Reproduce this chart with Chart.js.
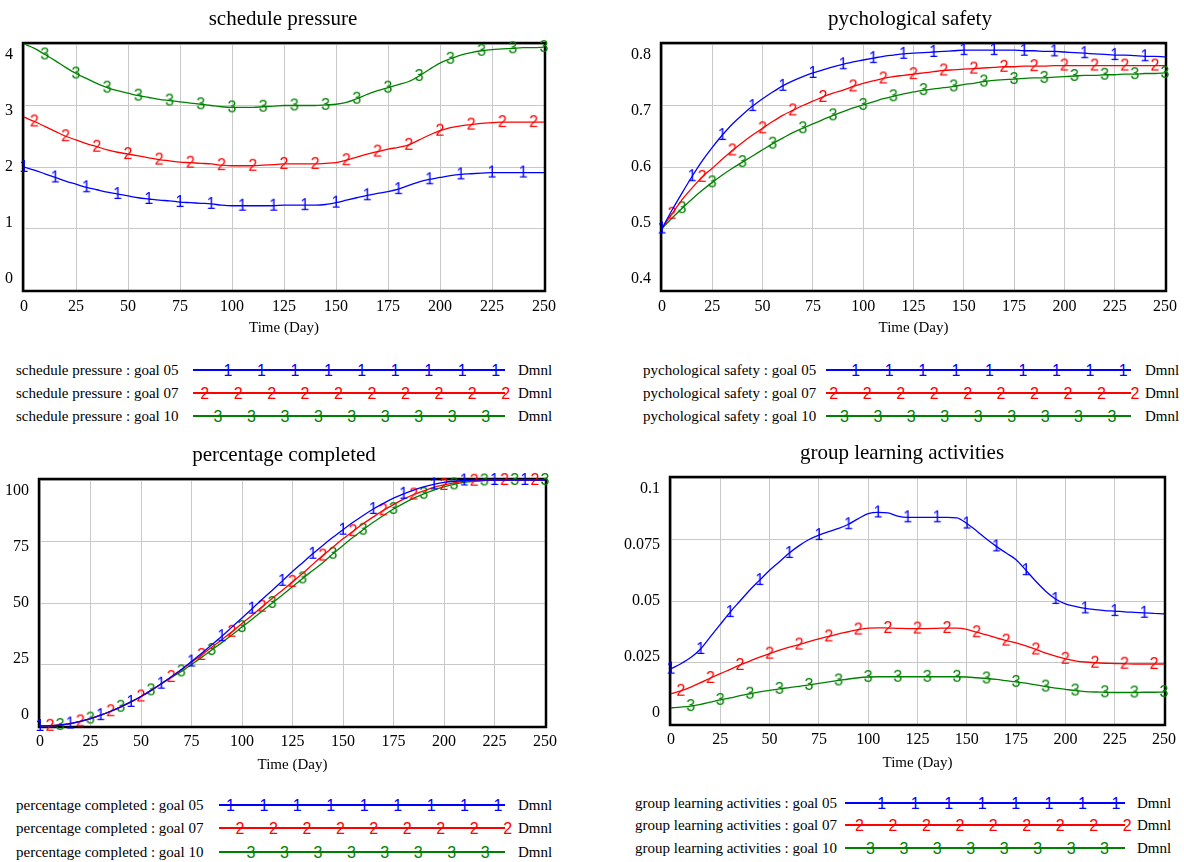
<!DOCTYPE html>
<html>
<head>
<meta charset="utf-8">
<script src="https://cdn.jsdelivr.net/npm/chart.js@4.4.0/dist/chart.umd.min.js"></script>
<style>
  body { margin: 0; background: #fff; }
  #page { position: relative; width: 1184px; height: 862px; overflow: hidden; font-family: "Liberation Serif", "Times New Roman", serif; }
  canvas.panel { position: absolute; }
  .lg-text, .lg-unit { position: absolute; font-size: 15px; line-height: 18px; height: 18px; white-space: nowrap; color: #000; }
  .lg-line { position: absolute; height: 0; border-top: 2px solid; }
  .lg-mark { position: absolute; font-family: "Liberation Sans", Arial, sans-serif; font-size: 16px; line-height: 16px; transform: translate(-50%, -50%); }
</style>
</head>
<body>
<div id="page"></div>
<script>
// time axis (days), one value every 5 days
var TIME = [0, 5, 10, 15, 20, 25, 30, 35, 40, 45, 50, 55, 60, 65, 70, 75, 80, 85, 90, 95,
  100, 105, 110, 115, 120, 125, 130, 135, 140, 145, 150, 155, 160, 165, 170, 175, 180, 185, 190, 195,
  200, 205, 210, 215, 220, 225, 230, 235, 240, 245, 250];

var RUNS = ['goal 05', 'goal 07', 'goal 10'];

// schedule pressure
var sp05 = [2.00, 1.95, 1.89, 1.83, 1.77, 1.72, 1.67, 1.63, 1.59, 1.56, 1.53, 1.50, 1.48, 1.46, 1.45, 1.43, 1.42, 1.41, 1.40, 1.38,
  1.37, 1.37, 1.37, 1.37, 1.37, 1.38, 1.38, 1.38, 1.38, 1.39, 1.42, 1.46, 1.50, 1.54, 1.57, 1.60, 1.64, 1.70, 1.76, 1.80,
  1.83, 1.86, 1.88, 1.89, 1.90, 1.91, 1.91, 1.91, 1.91, 1.91, 1.91];
var sp07 = [2.81, 2.74, 2.66, 2.58, 2.50, 2.44, 2.38, 2.33, 2.28, 2.24, 2.21, 2.18, 2.15, 2.12, 2.10, 2.08, 2.07, 2.06, 2.05, 2.03,
  2.02, 2.02, 2.02, 2.03, 2.04, 2.05, 2.05, 2.05, 2.05, 2.06, 2.07, 2.11, 2.16, 2.21, 2.25, 2.29, 2.32, 2.36, 2.44, 2.52,
  2.59, 2.64, 2.67, 2.69, 2.71, 2.72, 2.73, 2.73, 2.73, 2.73, 2.73];
var sp10 = [4.00, 3.93, 3.83, 3.73, 3.62, 3.52, 3.44, 3.36, 3.29, 3.24, 3.20, 3.16, 3.13, 3.10, 3.08, 3.06, 3.04, 3.02, 3.00, 2.98,
  2.97, 2.97, 2.97, 2.98, 2.99, 3.00, 3.00, 3.00, 3.00, 3.01, 3.02, 3.05, 3.11, 3.18, 3.24, 3.29, 3.34, 3.39, 3.48, 3.59,
  3.69, 3.76, 3.82, 3.86, 3.89, 3.91, 3.92, 3.93, 3.94, 3.94, 3.95];

// pychological safety
var ps05 = [0.500, 0.530, 0.558, 0.585, 0.610, 0.632, 0.652, 0.670, 0.685, 0.699, 0.711, 0.722, 0.732, 0.740, 0.747, 0.753, 0.758, 0.763, 0.767, 0.771,
  0.774, 0.777, 0.780, 0.782, 0.784, 0.785, 0.786, 0.787, 0.788, 0.789, 0.790, 0.790, 0.790, 0.790, 0.790, 0.790, 0.789, 0.789, 0.788, 0.788,
  0.787, 0.786, 0.785, 0.784, 0.783, 0.782, 0.782, 0.781, 0.780, 0.780, 0.779];
var ps07 = [0.500, 0.524, 0.547, 0.566, 0.584, 0.598, 0.613, 0.627, 0.640, 0.652, 0.663, 0.674, 0.684, 0.692, 0.700, 0.707, 0.714, 0.720, 0.725, 0.731,
  0.736, 0.740, 0.744, 0.747, 0.749, 0.751, 0.753, 0.755, 0.757, 0.758, 0.759, 0.760, 0.761, 0.762, 0.763, 0.763, 0.764, 0.764, 0.764, 0.765,
  0.765, 0.765, 0.765, 0.765, 0.765, 0.765, 0.765, 0.765, 0.765, 0.765, 0.765];
var ps10 = [0.500, 0.517, 0.533, 0.548, 0.562, 0.575, 0.587, 0.598, 0.608, 0.618, 0.628, 0.638, 0.647, 0.656, 0.663, 0.670, 0.677, 0.684, 0.690, 0.696,
  0.701, 0.706, 0.711, 0.715, 0.719, 0.722, 0.725, 0.727, 0.729, 0.731, 0.734, 0.736, 0.739, 0.741, 0.742, 0.743, 0.744, 0.745, 0.745, 0.746,
  0.747, 0.748, 0.749, 0.749, 0.750, 0.750, 0.751, 0.751, 0.752, 0.752, 0.753];

// percentage completed
var pc05 = [0, 0.1, 0.4, 1.0, 1.9, 3.0, 4.4, 6.0, 7.8, 9.8, 12.0, 14.5, 17.2, 20.0, 23.0, 26.2, 29.6, 33.0, 36.5, 40.2,
  43.9, 47.7, 51.5, 55.2, 59.0, 62.8, 66.4, 70.0, 73.4, 76.7, 79.8, 82.8, 85.6, 88.2, 90.5, 92.6, 94.4, 95.9, 97.2, 98.2,
  99.0, 99.5, 99.8, 100, 100, 100, 100, 100, 100, 100, 100];
var pc07 = [0, 0.1, 0.4, 1.0, 1.9, 3.0, 4.4, 6.0, 7.8, 9.8, 12.0, 14.5, 17.1, 19.9, 22.9, 25.9, 28.9, 32.0, 35.1, 38.3,
  41.7, 45.0, 48.5, 51.9, 55.2, 58.6, 62.0, 65.7, 69.3, 72.7, 76.1, 79.2, 82.2, 85.0, 87.7, 90.0, 92.2, 94.1, 95.6, 97.0,
  98.0, 98.8, 99.4, 99.7, 99.9, 100, 100, 100, 100, 100, 100];
var pc10 = [0, 0.1, 0.4, 1.0, 1.9, 3.0, 4.4, 6.0, 7.8, 9.8, 12.0, 14.5, 17.2, 19.7, 22.2, 25.0, 27.9, 30.9, 33.9, 37.0,
  40.2, 43.4, 46.7, 50.0, 53.3, 56.6, 60.0, 63.2, 66.4, 70.0, 73.4, 76.7, 79.8, 82.8, 85.6, 88.2, 90.5, 92.6, 94.4, 95.9,
  97.2, 98.2, 99.0, 99.5, 99.8, 100, 100, 100, 100, 100, 100];

// group learning activities
var gl05 = [0.0225, 0.0245, 0.0270, 0.0305, 0.0355, 0.0405, 0.0455, 0.0500, 0.0545, 0.0585, 0.0625, 0.0660, 0.0695, 0.0725, 0.0750, 0.0768, 0.0782, 0.0795, 0.0812, 0.0835,
  0.0855, 0.0860, 0.0858, 0.0845, 0.0840, 0.0840, 0.0840, 0.0840, 0.0840, 0.0838, 0.0815, 0.0785, 0.0752, 0.0722, 0.0695, 0.0668, 0.0625, 0.0580, 0.0540, 0.0508,
  0.0488, 0.0478, 0.0470, 0.0465, 0.0461, 0.0459, 0.0456, 0.0454, 0.0452, 0.0450, 0.0448];
var gl07 = [0.0123, 0.0135, 0.0150, 0.0168, 0.0187, 0.0205, 0.0222, 0.0240, 0.0256, 0.0272, 0.0286, 0.0300, 0.0312, 0.0323, 0.0335, 0.0346, 0.0356, 0.0366, 0.0375, 0.0384,
  0.0390, 0.0391, 0.0390, 0.0389, 0.0388, 0.0388, 0.0388, 0.0389, 0.0390, 0.0390, 0.0385, 0.0373, 0.0362, 0.0350, 0.0339, 0.0330, 0.0318, 0.0303, 0.0288, 0.0276,
  0.0265, 0.0257, 0.0252, 0.0249, 0.0247, 0.0246, 0.0245, 0.0244, 0.0244, 0.0244, 0.0244];
var gl10 = [0.0066, 0.0069, 0.0073, 0.0080, 0.0089, 0.0098, 0.0106, 0.0115, 0.0123, 0.0131, 0.0137, 0.0143, 0.0148, 0.0153, 0.0159, 0.0165, 0.0171, 0.0177, 0.0183, 0.0188,
  0.0191, 0.0192, 0.0192, 0.0192, 0.0192, 0.0192, 0.0192, 0.0192, 0.0192, 0.0192, 0.0191, 0.0188, 0.0185, 0.0181, 0.0176, 0.0171, 0.0166, 0.0159, 0.0152, 0.0146,
  0.0141, 0.0136, 0.0132, 0.0130, 0.0129, 0.0128, 0.0128, 0.0128, 0.0129, 0.0129, 0.0130];

var COLORS = ['#0000ff', '#ff0000', '#008000'];
var DIGITS = ['1', '2', '3'];
var SERIF = '"Liberation Serif", "Times New Roman", serif';

var page = document.getElementById('page');

// little canvas with the run number, used as point style
function digitImage(d, color) {
  var c = document.createElement('canvas');
  c.width = 12;
  c.height = 16;
  var g = c.getContext('2d');
  g.font = '16px "Liberation Sans", Arial, sans-serif';
  g.fillStyle = color;
  g.textAlign = 'center';
  g.textBaseline = 'middle';
  g.fillText(d, 6, 8.5);
  return c;
}
var MARKS = DIGITS.map(function (d, i) { return digitImage(d, COLORS[i]); });

// frame, title and vensim style y labels
var vensimLook = {
  id: 'vensimLook',
  beforeDatasetsDraw: function (chart) {
    var a = chart.chartArea, ctx = chart.ctx;
    ctx.save();
    ctx.strokeStyle = '#000';
    ctx.lineWidth = 2.5;
    ctx.strokeRect(a.left - 1, a.top - 1, a.right - a.left + 2, a.bottom - a.top + 2);
    ctx.restore();
  },
  afterDraw: function (chart, args, opts) {
    var a = chart.chartArea, ctx = chart.ctx, ys = chart.scales.y;
    ctx.save();
    ctx.fillStyle = '#000';
    ctx.textBaseline = 'middle';
    ctx.textAlign = 'center';
    ctx.font = '21px ' + SERIF;
    ctx.fillText(opts.title, opts.titleX, opts.titleY);

    // labels slide inward towards the ends of the axis, like Vensim does
    ctx.font = '16px ' + SERIF;
    ctx.textAlign = 'right';
    ys.ticks.forEach(function (t) {
      var py = ys.getPixelForValue(t.value);
      var f = (t.value - ys.min) / (ys.max - ys.min);
      var lbl = String(+t.value.toFixed(4));
      ctx.fillText(lbl, a.left - 11, py + (f - 0.5) * 22);
    });
    ctx.restore();
  }
};

function makePanel(p) {
  var canvas = document.createElement('canvas');
  canvas.className = 'panel';
  canvas.width = p.w;
  canvas.height = p.h;
  canvas.style.left = p.x + 'px';
  canvas.style.top = p.y + 'px';
  canvas.style.width = p.w + 'px';
  canvas.style.height = p.h + 'px';
  page.appendChild(canvas);

  var datasets = p.series.map(function (vals, i) {
    return {
      label: p.name + ' : ' + RUNS[i],
      data: TIME.map(function (t, k) { return { x: t, y: vals[k] }; }),
      borderColor: COLORS[i],
      borderWidth: 1.3,
      fill: false,
      cubicInterpolationMode: 'monotone',
      pointStyle: MARKS[i],
      pointRadius: function (c) { return c.dataIndex % 3 === i ? 5 : 0; },
      pointHoverRadius: 0,
      clip: false
    };
  });

  new Chart(canvas, {
    type: 'line',
    data: { datasets: datasets },
    options: {
      responsive: false,
      animation: false,
      events: [],
      layout: { padding: { left: 0, top: p.top, right: p.w - p.right, bottom: 0 } },
      plugins: {
        legend: { display: false },
        tooltip: { enabled: false },
        vensimLook: { title: p.name, titleX: p.titleX, titleY: p.titleY }
      },
      scales: {
        x: {
          type: 'linear',
          min: 0,
          max: 250,
          ticks: { stepSize: 25, autoSkip: false, maxRotation: 0, padding: p.tickPad, color: '#000', font: { family: SERIF, size: 16 } },
          grid: { color: '#c8c8c8', drawTicks: false },
          border: { display: false },
          title: { display: true, text: 'Time (Day)', color: '#000', font: { family: SERIF, size: 15 }, padding: { top: 0, bottom: p.titlePad } },
          afterFit: function (s) { s.height = p.h - p.bottom; }
        },
        y: {
          min: p.ymin,
          max: p.ymax,
          ticks: { stepSize: p.ystep, display: false },
          grid: { color: '#c8c8c8', drawTicks: false },
          border: { display: false },
          afterFit: function (s) { s.width = p.left; }
        }
      }
    },
    plugins: [vensimLook]
  });
}

function addText(cls, text, x, y) {
  var el = document.createElement('div');
  el.className = cls;
  el.textContent = text;
  el.style.left = x + 'px';
  el.style.top = (y - 9) + 'px';
  page.appendChild(el);
}

function makeLegend(p) {
  var lg = p.legend;
  RUNS.forEach(function (run, i) {
    var y = lg.rows[i];
    addText('lg-text', p.name + ' : ' + run, lg.textX, y);
    var line = document.createElement('div');
    line.className = 'lg-line';
    line.style.left = lg.x0 + 'px';
    line.style.width = (lg.x1 - lg.x0) + 'px';
    line.style.top = (y - 1) + 'px';
    line.style.borderColor = COLORS[i];
    page.appendChild(line);
    for (var off = lg.first[i]; off <= lg.x1 - lg.x0 + 4; off += 33.45) {
      var m = document.createElement('div');
      m.className = 'lg-mark';
      m.textContent = DIGITS[i];
      m.style.color = COLORS[i];
      m.style.left = (lg.x0 + off) + 'px';
      m.style.top = (y + 0.5) + 'px';
      page.appendChild(m);
    }
    addText('lg-unit', 'Dmnl', lg.unitX, y);
  });
}

var PANELS = [
  { name: 'schedule pressure', series: [sp05, sp07, sp10], ymin: 0, ymax: 4, ystep: 1,
    x: 0, y: 0, w: 592, h: 340, left: 24, right: 544, top: 44, bottom: 290, tickPad: 7, titlePad: 3, titleX: 283, titleY: 19,
    legend: { textX: 16, x0: 193, x1: 505, unitX: 518, rows: [370, 393, 416], first: [35, 11.7, 25] } },
  { name: 'pychological safety', series: [ps05, ps07, ps10], ymin: 0.4, ymax: 0.8, ystep: 0.1,
    x: 592, y: 0, w: 592, h: 340, left: 70, right: 579, top: 44, bottom: 290, tickPad: 7, titlePad: 3, titleX: 318, titleY: 19,
    legend: { textX: 643, x0: 826, x1: 1131, unitX: 1145, rows: [370, 393, 416], first: [29.7, 7.8, 18.4] } },
  { name: 'percentage completed', series: [pc05, pc07, pc10], ymin: 0, ymax: 100, ystep: 25,
    x: 0, y: 436, w: 592, h: 344, left: 40, right: 545, top: 44, bottom: 290, tickPad: 6, titlePad: 6, titleX: 284, titleY: 19,
    legend: { textX: 16, x0: 219, x1: 505, unitX: 518, rows: [805, 828, 852], first: [11.4, 21, 32] } },
  { name: 'group learning activities', series: [gl05, gl07, gl10], ymin: 0, ymax: 0.1, ystep: 0.025,
    x: 592, y: 436, w: 592, h: 344, left: 79, right: 572, top: 42, bottom: 288, tickPad: 6, titlePad: 8, titleX: 310, titleY: 17,
    legend: { textX: 635, x0: 845, x1: 1125, unitX: 1137, rows: [803, 825, 848], first: [36.8, 14.5, 25.4] } }
];

PANELS.forEach(function (p) {
  makePanel(p);
  makeLegend(p);
});
</script>
</body>
</html>
